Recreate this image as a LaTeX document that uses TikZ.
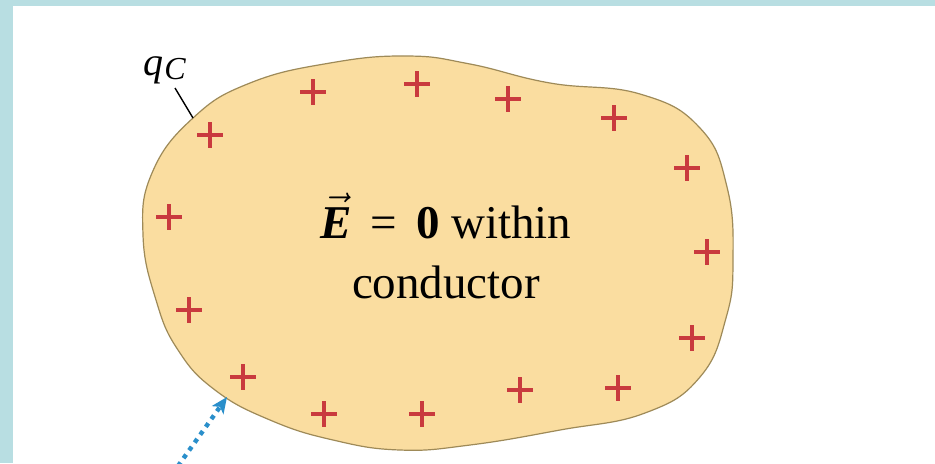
\documentclass[tikz,border=0pt]{standalone}
\usepackage{fontspec}
\setmainfont{Liberation Serif}
\usetikzlibrary{arrows.meta}
\definecolor{frameblue}{HTML}{B8DEE2}
\definecolor{blobfill}{HTML}{FADDA0}
\definecolor{blobline}{HTML}{9E8A58}
\definecolor{plusred}{HTML}{C93A3E}
\definecolor{arrowblue}{HTML}{2A8FCB}
\tikzset{
  plusmark/.style={draw=plusred, line width=1.8pt},
  conductor/.style={fill=blobfill, draw=blobline, line width=0.6pt},
  leader/.style={draw=black, line width=0.7pt},
  dotarrow/.style={draw=arrowblue, line width=2.2pt, dash pattern=on 2.2pt off 2.6pt,
    -{Stealth[length=8pt,width=7pt,inset=2pt]}},
}
\begin{document}
\begin{tikzpicture}[x=0.5pt,y=-0.5pt]
\useasboundingbox (0,0) rectangle (935,463);
\fill[frameblue] (0,0) rectangle (935,463);
\fill[white] (13,6) rectangle (935,463);

% conductor blob
\draw[conductor] plot[smooth cycle, tension=0.75] coordinates {
  (193,118) (250,83) (330,63) (407,56) (470,64) (550,83)
  (640,94) (700,128) (727,187) (733,260) (726,318)
  (700,377) (645,413) (560,430) (470,445) (400,450) (333,440)
  (270,420) (215,390) (178,350) (156,300) (143,235) (152,173)};

% plus charges
\foreach \x/\y in {210/135, 313/92, 417/84, 508/99, 614/118, 687/168, 707/252,
  692/338, 618/388, 520/390, 422/414, 324/414, 243/377, 189/310, 169/217}{
  \draw[plusmark] (\x-13,\y) -- (\x+13,\y) (\x,\y-13) -- (\x,\y+13);
}

% label inside
\node[font=\fontsize{23.5}{30}\selectfont, align=center, inner sep=0pt] (inside) at (446,246)
  {\mbox{$\vec{\hbox{\bfseries\itshape E}}$}\kern0.4em=\kern0.4em\textbf{0} within\\conductor};

% q_C label and leader
\node[anchor=base west, inner sep=0pt] (qc) at (143,75)
  {\fontsize{20}{24}\selectfont\itshape q\kern0.5pt\raisebox{-2pt}{\fontsize{16}{18}\selectfont C}};
\coordinate (qstart) at (175,88);
\coordinate (qtip) at (193,118);
\draw[leader] (qstart) -- (qtip);

% blue dotted arrow
\coordinate (arrtail) at (178,466);
\coordinate (arrtip) at (227,397);
\draw[dotarrow] (arrtail) -- (arrtip);
\end{tikzpicture}
\end{document}
